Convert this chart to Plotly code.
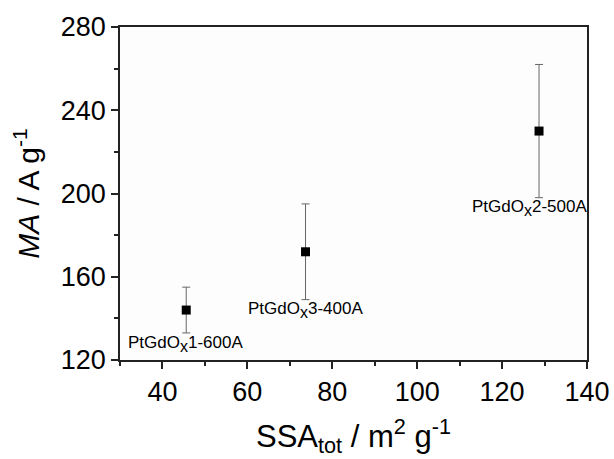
import plotly.graph_objects as go

ssa = [45.6, 73.7, 128.7]
ma = [144, 172, 230]
err = [11, 23, 32]
labels = ["PtGdO", "PtGdO", "PtGdO"]
label_suffix = ["1-600A", "3-400A", "2-500A"]
label_x = [45.5, 73.6, 126.5]
label_y = [127.7, 144.0, 193.0]

fig = go.Figure()
fig.add_trace(go.Scatter(
    x=ssa, y=ma, mode="markers",
    marker=dict(symbol="square", size=9, color="black"),
    error_y=dict(type="data", array=err, visible=True, color="#666666", thickness=1, width=4),
    showlegend=False,
))
for lx, ly, t, s in zip(label_x, label_y, labels, label_suffix):
    fig.add_annotation(x=lx, y=ly,
                       text=t + "<sub><span style='font-size:16px'>x</span></sub>" + s,
                       showarrow=False,
                       font=dict(family="Liberation Sans, Arial", size=17, color="black"))

fig.update_layout(
    width=614, height=459,
    margin=dict(l=120, r=27, t=27, b=99),
    paper_bgcolor="white", plot_bgcolor="#fdfdfd",
    font=dict(family="Liberation Sans, Arial", color="black"),
)
fig.update_xaxes(range=[30, 140], tickvals=[40, 60, 80, 100, 120, 140],
                 ticks="outside", ticklen=7, tickwidth=1.5, tickcolor="#222",
                 minor=dict(ticks="outside", ticklen=4, dtick=10, tickcolor="#222", tickwidth=1.5),
                 showline=True, linecolor="#222", linewidth=1.5, mirror=True,
                 showgrid=False, zeroline=False, tickfont=dict(size=27), automargin=False,
                 title=dict(text="SSA<sub>tot</sub> / m<sup>2</sup> g<sup>-1</sup>", font=dict(size=31), standoff=19))
fig.update_yaxes(range=[120, 280], tickvals=[120, 160, 200, 240, 280],
                 ticks="outside", ticklen=7, tickwidth=1.5, tickcolor="#222",
                 minor=dict(ticks="outside", ticklen=4, dtick=20, tickcolor="#222", tickwidth=1.5),
                 showline=True, linecolor="#222", linewidth=1.5, mirror=True,
                 showgrid=False, zeroline=False, tickfont=dict(size=27), automargin=False,
                 title=dict(text="<i>MA</i> / A g<sup>-1</sup>", font=dict(size=30), standoff=12))
fig.write_html("out.html", config={"displayModeBar": False},
               post_script="document.body.style.margin='0';document.body.style.overflow='hidden';")
